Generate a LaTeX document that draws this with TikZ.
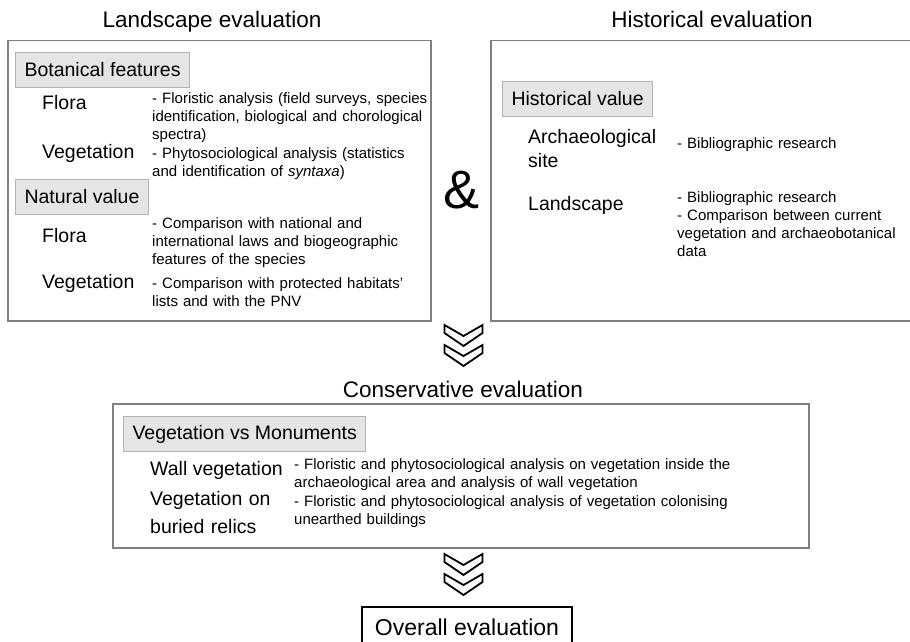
\documentclass[tikz,border=0pt]{standalone}
\usepackage{fontspec}
\setmainfont{Liberation Sans}
\usetikzlibrary{positioning}

\newcommand{\headsize}{\fontsize{22.5}{26}\selectfont}
\newcommand{\lblsize}{\fontsize{19.5}{24}\selectfont}
\newcommand{\descsize}{\fontsize{15}{18}\selectfont}

\begin{document}
\begin{tikzpicture}[
    x=1pt, y=-1pt,
    panel/.style={draw=black!50, line width=1.5pt, anchor=north west, inner sep=0pt},
    tagbox/.style={draw=black!30, fill=black!10, line width=1pt, anchor=north west, inner xsep=9pt, inner ysep=0pt, minimum height=35pt, font=\lblsize},
    headtxt/.style={anchor=base, inner sep=0pt, font=\headsize},
    lbl/.style={anchor=base west, inner sep=0pt, font=\lblsize},
    desctxt/.style={anchor=base west, inner sep=0pt, font=\descsize, text width=#1, align=left},
    chevron/.pic={
        \foreach \dy in {0,20}
            \draw[line width=1.8pt, line join=miter] (-19,\dy) -- (0,\dy+11) -- (19,\dy) -- (19,\dy+8) -- (0,\dy+21) -- (-19,\dy+8) -- cycle;
    }
]
\useasboundingbox (0,0) rectangle (910,642);

% ==================== LANDSCAPE EVALUATION ====================
\node[headtxt] (land_head) at (212,28) {Landscape evaluation};
\node[panel, minimum width=423pt, minimum height=280pt] (land_box) at (7,40) {};

\node[tagbox] (bot_tag) at (15,52) {Botanical features};
\node[lbl] (bot_flora) at (42,110) {Flora};
\node[desctxt=290pt] (bot_flora_d) at (152,103) {- Floristic analysis (field surveys, species\\identification, biological and chorological\\spectra)};
\node[lbl] (bot_veg) at (42,158) {Vegetation};
\node[desctxt=290pt] (bot_veg_d) at (152,158) {- Phytosociological analysis (statistics\\and identification of \textit{syntaxa})};

\node[tagbox] (nat_tag) at (15,179) {Natural value};
\node[lbl] (nat_flora) at (42,242) {Flora};
\node[desctxt=290pt] (nat_flora_d) at (152,228) {- Comparison with national and\\international laws and biogeographic\\features of the species};
\node[lbl] (nat_veg) at (42,288) {Vegetation};
\node[desctxt=290pt] (nat_veg_d) at (152,288) {- Comparison with protected habitats’\\lists and with the PNV};

% ==================== AND ====================
\node[anchor=base, inner sep=0pt, font=\fontsize{54}{60}\selectfont] (amp) at (462,208) {\&};

% ==================== HISTORICAL EVALUATION ====================
\node[headtxt] (hist_head) at (712,28) {Historical evaluation};
\node[panel, minimum width=440pt, minimum height=280pt] (hist_box) at (490,40) {};

\node[tagbox] (hist_tag) at (502,81) {Historical value};
\node[lbl, text width=140pt, align=left] (hist_arch) at (528,143) {Archaeological\\site};
\node[desctxt=240pt] (hist_arch_d) at (677,148) {- Bibliographic research};
\node[lbl] (hist_land) at (528,210) {Landscape};
\node[desctxt=240pt] (hist_land_d) at (677,202) {- Bibliographic research\\- Comparison between current\\vegetation and archaeobotanical\\data};

% ==================== CONSERVATIVE EVALUATION ====================
\coordinate (chev_top) at (463.5,325);
\pic at (chev_top) {chevron};

\node[headtxt] (cons_head) at (463,397) {Conservative evaluation};
\node[panel, minimum width=696pt, minimum height=144pt] (cons_box) at (112,403) {};

\node[tagbox] (mon_tag) at (123,416) {Vegetation vs Monuments};
\node[lbl] (mon_wall) at (150,475) {Wall vegetation};
\node[desctxt=470pt] (mon_wall_d) at (294,469) {- Floristic and phytosociological analysis on vegetation inside the\\archaeological area and analysis of wall vegetation};
\node[lbl, text width=140pt, align=left] (mon_buried) at (150,505) {Vegetation on\\[4pt]buried relics};
\node[desctxt=470pt] (mon_buried_d) at (294,506) {- Floristic and phytosociological analysis of vegetation colonising\\unearthed buildings};

% ==================== OVERALL ====================
\coordinate (chev_bot) at (463.5,554);
\pic at (chev_bot) {chevron};

\node[draw=black, line width=2pt, anchor=north, minimum width=210pt, minimum height=40pt, font=\fontsize{23}{26}\selectfont] (overall) at (467,606) {Overall evaluation};

\end{tikzpicture}
\end{document}
